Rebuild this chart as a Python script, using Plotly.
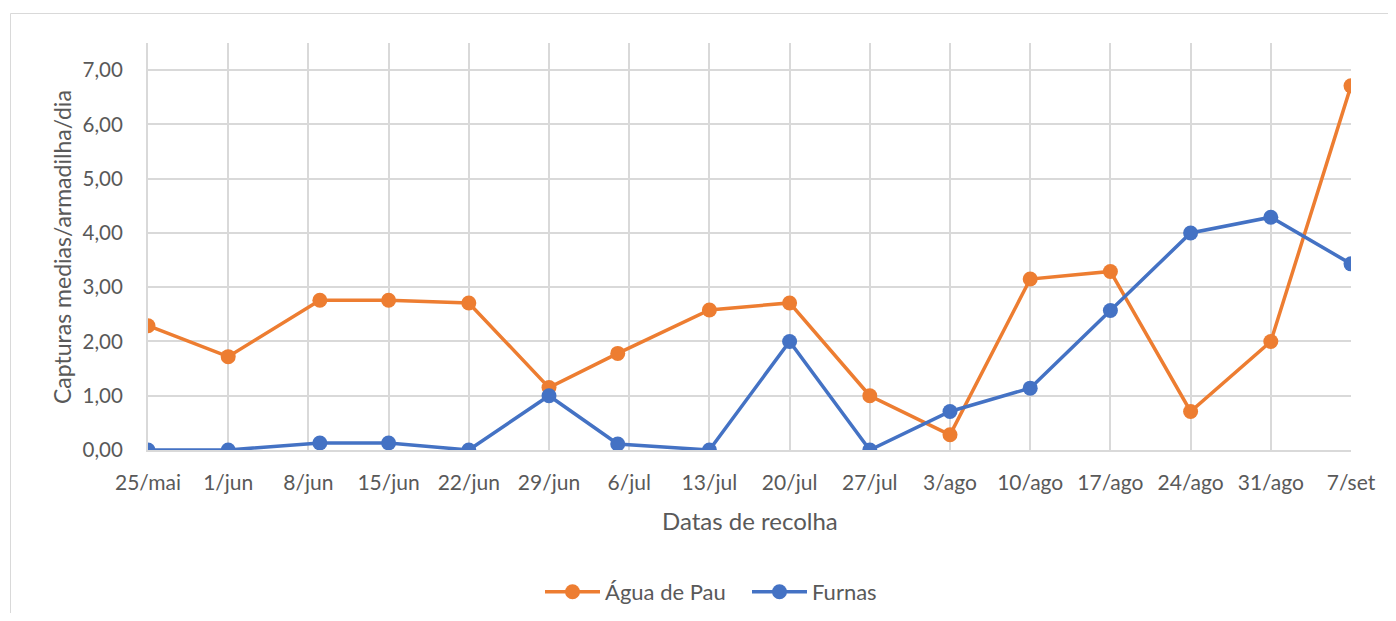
import plotly.graph_objects as go

# datas de recolha (ano arbitrário, só interessa o dia/mês)
datas = ["2020-05-25", "2020-06-01", "2020-06-09", "2020-06-15", "2020-06-22",
         "2020-06-29", "2020-07-05", "2020-07-13", "2020-07-20", "2020-07-27",
         "2020-08-03", "2020-08-10", "2020-08-17", "2020-08-24", "2020-08-31",
         "2020-09-07"]
agua_de_pau = [2.29, 1.72, 2.76, 2.76, 2.71, 1.15, 1.78, 2.58, 2.71, 1.00,
               0.28, 3.15, 3.29, 0.71, 2.00, 6.71]
furnas = [0.00, 0.00, 0.13, 0.13, 0.00, 1.00, 0.11, 0.00, 2.00, 0.00,
          0.71, 1.14, 2.57, 4.00, 4.29, 3.43]

tick_vals = ["2020-05-25", "2020-06-01", "2020-06-08", "2020-06-15", "2020-06-22",
             "2020-06-29", "2020-07-06", "2020-07-13", "2020-07-20", "2020-07-27",
             "2020-08-03", "2020-08-10", "2020-08-17", "2020-08-24", "2020-08-31",
             "2020-09-07"]
tick_text = ["25/mai", "1/jun", "8/jun", "15/jun", "22/jun", "29/jun", "6/jul",
             "13/jul", "20/jul", "27/jul", "3/ago", "10/ago", "17/ago", "24/ago",
             "31/ago", "7/set"]

LARANJA = "#ED7D31"
AZUL = "#4472C4"
GRID = "#d9d9d9"
TXT = "#595959"
FONTE = "Lato, Open Sans, sans-serif"

# área do gráfico no ecrã (px): esquerda 148, direita 1351, topo 43, base 450
# a página tem 8px de margem no body, por isso a figura começa em (8, 8)
PX_L, PX_R, PX_T, PX_B = 148, 1351, 43, 450
W_PLOT = PX_R - PX_L
H_PLOT = PX_B - PX_T


def px_x(x):
    return (x - PX_L) / W_PLOT


def px_y(y):
    return (PX_B - y) / H_PLOT


fig = go.Figure()
fig.add_trace(go.Scatter(
    x=datas, y=agua_de_pau, mode="lines+markers", name="Água de Pau",
    line=dict(color=LARANJA, width=3.5),
    marker=dict(size=15, color=LARANJA)
))
fig.add_trace(go.Scatter(
    x=datas, y=furnas, mode="lines+markers", name="Furnas",
    line=dict(color=AZUL, width=3.5),
    marker=dict(size=15, color=AZUL)
))

fig.update_layout(
    width=1380, height=605,
    margin=dict(l=PX_L - 8, r=1388 - PX_R, t=PX_T - 8, b=613 - PX_B, autoexpand=False),
    paper_bgcolor="white", plot_bgcolor="white",
    separators=",.",
    font=dict(family=FONTE, size=20, color=TXT),
    showlegend=True,
    legend=dict(orientation="h", x=px_x(540), y=px_y(592), xanchor="left", yanchor="middle",
                font=dict(size=22, color=TXT), itemwidth=55,
                entrywidth=137, entrywidthmode="pixels"),
    xaxis=dict(
        type="date", range=["2020-05-25", "2020-09-07"],
        tickvals=tick_vals, ticktext=tick_text,
        showgrid=True, gridcolor=GRID, gridwidth=2,
        showline=True, linecolor=GRID, linewidth=2,
        zeroline=False, ticks="", ticklabelstandoff=13,
        tickfont=dict(size=21, color=TXT)
    ),
    yaxis=dict(
        range=[0, 7.5], tickvals=[0, 1, 2, 3, 4, 5, 6, 7], tickformat=".2f",
        showgrid=True, gridcolor=GRID, gridwidth=2,
        showline=True, linecolor=GRID, linewidth=2,
        zeroline=False, ticks="", ticklabelstandoff=19,
        tickfont=dict(size=20.5, color=TXT)
    ),
    annotations=[
        dict(text="Datas de recolha", xref="paper", yref="paper",
             x=px_x(750), y=px_y(520), xanchor="center", yanchor="middle",
             showarrow=False, font=dict(size=24, color=TXT)),
        dict(text="Capturas medias/armadilha/dia", xref="paper", yref="paper",
             x=px_x(62), y=px_y(247), xanchor="center", yanchor="middle",
             textangle=-90, showarrow=False, font=dict(size=23, color=TXT)),
    ],
    shapes=[
        dict(type="rect", xref="paper", yref="paper",
             x0=px_x(10.5), x1=1.2, y0=-0.6, y1=px_y(13.5),
             line=dict(color=GRID, width=1), layer="below"),
    ],
)

fig.write_html("out.html")
